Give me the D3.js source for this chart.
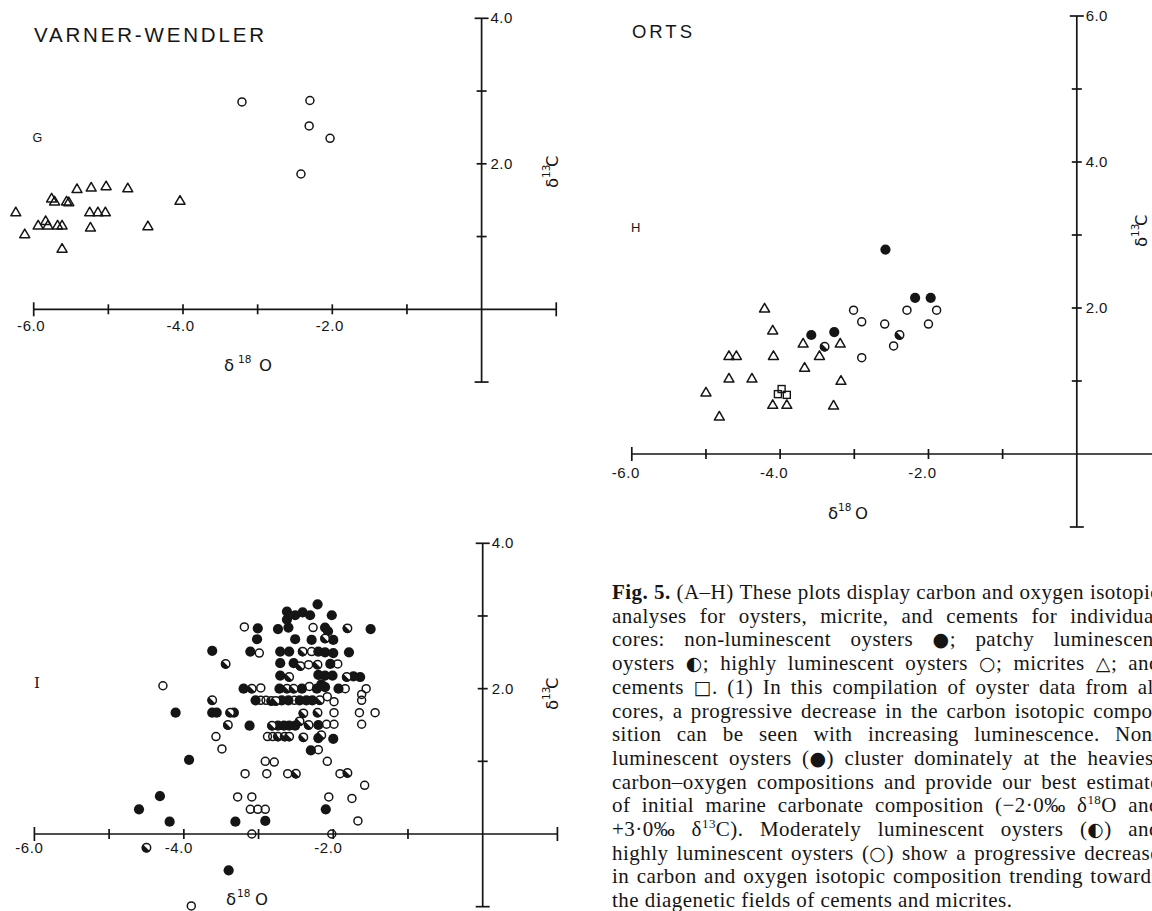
<!DOCTYPE html>
<html>
<head>
<meta charset="utf-8">
<script src="https://cdn.jsdelivr.net/npm/d3@7"></script>
<style>
  html, body { margin: 0; padding: 0; background: #fff; }
  svg { display: block; }
</style>
</head>
<body>
<svg id="fig" width="1152" height="911"></svg>
<script>
// Carbon (δ13C) versus oxygen (δ18O) isotope compositions, per mille PDB.
// Each point is [δ18O, δ13C].

// --- G: Varner-Wendler core ---
const vwOysterOpen = [[-3.21, 2.85], [-2.30, 2.87], [-2.31, 2.52], [-2.03, 2.35], [-2.42, 1.86]];
const vwMicrite = [
  [-6.24, 1.34], [-6.12, 1.04], [-5.94, 1.16], [-5.84, 1.22], [-5.81, 1.16], [-5.76, 1.53],
  [-5.72, 1.49], [-5.68, 1.16], [-5.62, 1.16], [-5.62, 0.84], [-5.56, 1.49], [-5.53, 1.48],
  [-5.42, 1.66], [-5.23, 1.68], [-5.25, 1.34], [-5.24, 1.13], [-5.14, 1.34], [-5.03, 1.70],
  [-5.04, 1.34], [-4.74, 1.67], [-4.47, 1.15], [-4.04, 1.50]
];

// --- H: Orts core ---
const ortsFilled = [[-2.58, 2.80], [-2.18, 2.14], [-1.97, 2.14], [-3.58, 1.63], [-3.27, 1.67]];
const ortsPatchy = [[-3.40, 1.47], [-2.39, 1.63]];
const ortsOpen = [
  [-3.01, 1.97], [-2.90, 1.81], [-2.59, 1.78], [-2.29, 1.97], [-1.89, 1.97], [-2.00, 1.78],
  [-2.47, 1.48], [-2.90, 1.32]
];
const ortsMicrite = [
  [-4.21, 2.00], [-4.10, 1.70], [-4.09, 1.35], [-4.69, 1.35], [-4.59, 1.35], [-3.69, 1.52],
  [-3.19, 1.52], [-3.47, 1.35], [-3.67, 1.19], [-4.69, 1.04], [-4.38, 1.04], [-3.18, 1.01],
  [-5.00, 0.85], [-4.82, 0.52], [-4.10, 0.68], [-3.91, 0.68], [-3.28, 0.67]
];
const ortsCement = [[-3.98, 0.89], [-4.03, 0.82], [-3.91, 0.81]];

// --- I: oyster compilation, all cores ---
const allFilled = [
  [-2.21, 3.16], [-2.62, 3.06], [-2.51, 3.01], [-2.41, 3.05], [-2.31, 3.01], [-2.02, 3.01], [-2.62, 2.95],
  [-3.01, 2.83], [-2.74, 2.82], [-2.60, 2.84], [-2.11, 2.84], [-2.07, 2.79], [-1.50, 2.82],
  [-3.02, 2.68], [-2.51, 2.68], [-2.29, 2.67], [-2.00, 2.67],
  [-3.62, 2.52], [-3.11, 2.51], [-2.71, 2.51], [-2.59, 2.51], [-2.20, 2.51], [-2.11, 2.50], [-2.00, 2.49], [-1.79, 2.50],
  [-2.71, 2.35], [-2.53, 2.35], [-2.04, 2.34],
  [-2.71, 2.18], [-2.20, 2.19], [-2.11, 2.18], [-2.01, 2.18], [-1.73, 2.17], [-1.64, 2.16],
  [-3.20, 2.00], [-2.72, 2.00], [-2.42, 2.00], [-2.22, 2.00], [-2.11, 2.02], [-2.16, 2.06], [-1.93, 2.00],
  [-3.04, 1.84], [-2.69, 1.84], [-2.60, 1.84], [-2.45, 1.84], [-2.36, 1.84], [-2.28, 1.84],
  [-4.11, 1.67], [-3.62, 1.67], [-3.56, 1.67], [-3.33, 1.67],
  [-3.12, 1.49], [-2.74, 1.49], [-2.66, 1.49], [-2.59, 1.49], [-2.51, 1.49], [-2.20, 1.50],
  [-2.20, 1.32], [-2.00, 1.31], [-2.30, 1.15], [-3.93, 1.02],
  [-4.32, 0.52], [-4.60, 0.34], [-2.10, 0.34], [-4.19, 0.17], [-3.31, 0.17], [-2.91, 0.18],
  [-3.40, -0.50]
];
const allPatchy = [
  [-1.81, 2.83], [-2.11, 2.69], [-2.41, 2.51], [-3.44, 2.34], [-2.44, 2.31], [-2.21, 2.33],
  [-2.59, 2.16], [-1.82, 2.16], [-3.09, 2.00], [-2.62, 2.00], [-2.53, 2.00],
  [-3.62, 1.84], [-2.83, 1.83], [-2.77, 1.83], [-2.18, 1.84],
  [-3.38, 1.67], [-2.40, 1.66], [-2.21, 1.67],
  [-3.41, 1.50], [-2.82, 1.49], [-2.45, 1.55], [-2.33, 1.50],
  [-2.74, 1.34], [-2.65, 1.34], [-2.59, 1.34], [-2.40, 1.33], [-2.16, 1.36],
  [-2.50, 0.83], [-1.81, 0.84], [-4.50, -0.19]
];
const allOpen = [
  [-3.19, 2.85], [-2.27, 2.84], [-2.99, 2.49], [-2.29, 2.51], [-2.33, 2.33], [-1.94, 2.34],
  [-4.28, 2.04], [-2.97, 2.01], [-2.32, 2.03], [-1.84, 2.00], [-1.56, 2.00], [-1.62, 1.92],
  [-2.97, 1.84], [-2.90, 1.84], [-2.52, 1.84], [-2.08, 1.89], [-1.99, 1.82], [-1.62, 1.84],
  [-1.99, 1.67], [-1.65, 1.67], [-1.44, 1.67],
  [-2.09, 1.51], [-1.99, 1.51], [-1.62, 1.51],
  [-3.57, 1.34], [-2.88, 1.34], [-2.81, 1.34], [-3.49, 1.17], [-2.20, 1.16],
  [-2.91, 1.00], [-2.79, 0.99], [-2.08, 1.00],
  [-3.18, 0.83], [-2.89, 0.83], [-2.61, 0.83], [-1.91, 0.83], [-1.58, 0.67],
  [-3.28, 0.51], [-3.09, 0.51], [-2.06, 0.51], [-1.75, 0.49],
  [-3.11, 0.34], [-3.01, 0.34], [-2.91, 0.34], [-1.67, 0.18],
  [-3.09, 0.00], [-2.02, 0.00], [-3.90, -0.99]
];

// Axis ticks and labels
const xTickValues = [-6, -5, -4, -3, -2, -1, 1];
const xLabelValues = [-6, -4, -2];
const yLabelsFour = [2, 4];
const yLabelsSix = [2, 4, 6];

// Figure caption, one entry per printed line (^nn marks a superscript)
const captionLines = [
  "Fig. 5. (A–H) These plots display carbon and oxygen isotopic",
  "analyses for oysters, micrite, and cements for individual",
  "cores: non-luminescent oysters ●; patchy luminescent",
  "oysters ◐; highly luminescent oysters ○; micrites △; and",
  "cements □. (1) In this compilation of oyster data from all",
  "cores, a progressive decrease in the carbon isotopic compo-",
  "sition can be seen with increasing luminescence. Non-",
  "luminescent oysters (●) cluster dominately at the heaviest",
  "carbon–oxygen compositions and provide our best estimate",
  "of initial marine carbonate composition (−2·0‰ δ^18O and",
  "+3·0‰ δ^13C). Moderately luminescent oysters (◐) and",
  "highly luminescent oysters (○) show a progressive decrease",
  "in carbon and oxygen isotopic composition trending towards",
  "the diagenetic fields of cements and micrites."
];

const svg = d3.select("#fig");
const ink = "#151515";
const sans = "'Liberation Sans', Arial, sans-serif";
const fmt = d3.formatLocale({decimal: ".", thousands: ",", grouping: [3], currency: ["", ""], minus: "-"}).format(".1f");

const panels = [
  {
    title: "VARNER-WENDLER", titleX: 34, titleY: 41.7, titleSize: 20.5, titleLen: 230,
    letter: "G", letterX: 32.5, letterY: 142, letterSize: 12.5, letterFont: sans,
    xMin: 33.7, xZero: 481.6, xEnd: 1, xCapRight: true,
    yZero: 309.3, yTop: 18.3, yMax: 4, yLabels: yLabelsFour,
    xLabelDy: 22, xLabelShift: -2.5,
    d18: [224, 371, 14, 35], d13: [558, 188],
    series: [["micrite", vwMicrite], ["open", vwOysterOpen]]
  },
  {
    title: "ORTS", titleX: 632, titleY: 38.3, titleSize: 18.5, titleLen: 60,
    letter: "H", letterX: 631, letterY: 232, letterSize: 13, letterFont: sans,
    xMin: 631.8, xZero: 1076.8, xEnd: 1.3, xCapRight: false,
    yZero: 454, yTop: 16, yMax: 6, yLabels: yLabelsSix,
    xLabelDy: 24, xLabelShift: -6,
    d18: [828, 519, 10, 27], d13: [1147, 247],
    series: [["micrite", ortsMicrite], ["cement", ortsCement], ["filled", ortsFilled],
             ["patchy", ortsPatchy], ["open", ortsOpen]]
  },
  {
    title: null,
    letter: "I", letterX: 34, letterY: 688, letterSize: 15, letterFont: "'DejaVu Serif', serif",
    xMin: 34.4, xZero: 482.7, xEnd: 1, xCapRight: true,
    yZero: 834, yTop: 543.3, yMax: 4, yLabels: yLabelsFour,
    xLabelDy: 19, xLabelShift: -5,
    d18: [226, 905, 11, 29], d13: [558, 710],
    series: [["filled", allFilled], ["patchy", allPatchy], ["open", allOpen]]
  }
];

// Point symbols
const halfDisc = (r) => {
  const a1 = Math.PI / 4, a2 = 5 * Math.PI / 4;
  return `M${r * Math.cos(a1)},${r * Math.sin(a1)}A${r},${r} 0 0 1 ${r * Math.cos(a2)},${r * Math.sin(a2)}Z`;
};
const symbols = {
  filled(g, pts, x, y) {
    g.selectAll(null).data(pts).join("circle")
      .attr("cx", d => x(d[0])).attr("cy", d => y(d[1])).attr("r", 5.1).attr("fill", ink);
  },
  open(g, pts, x, y) {
    g.selectAll(null).data(pts).join("circle")
      .attr("cx", d => x(d[0])).attr("cy", d => y(d[1])).attr("r", 4.0)
      .attr("fill", "none").attr("stroke", ink).attr("stroke-width", 1.5);
  },
  patchy(g, pts, x, y) {
    const m = g.selectAll(null).data(pts).join("g")
      .attr("transform", d => `translate(${x(d[0])},${y(d[1])})`);
    m.append("circle").attr("r", 4.2).attr("fill", "#fff").attr("stroke", ink).attr("stroke-width", 1.5);
    m.append("path").attr("d", halfDisc(4.8)).attr("fill", ink);
  },
  micrite(g, pts, x, y) {
    g.selectAll(null).data(pts).join("path")
      .attr("transform", d => `translate(${x(d[0])},${y(d[1])})`)
      .attr("d", "M0,-4.6L5,4L-5,4Z")
      .attr("fill", "none").attr("stroke", ink).attr("stroke-width", 1.5).attr("stroke-linejoin", "round");
  },
  cement(g, pts, x, y) {
    g.selectAll(null).data(pts).join("rect")
      .attr("x", d => x(d[0]) - 3.5).attr("y", d => y(d[1]) - 3.5)
      .attr("width", 7).attr("height", 7)
      .attr("fill", "none").attr("stroke", ink).attr("stroke-width", 1.4);
  }
};

function deltaLabel(g, x0, y0, dx1, dx2, mass, elem) {
  const t = g.append("text").attr("x", x0).attr("y", y0)
    .attr("font-family", "'DejaVu Sans', sans-serif").attr("font-size", 16.5).attr("fill", ink);
  t.append("tspan").text("δ");
  t.append("tspan").attr("x", x0 + dx1).attr("dy", -8).attr("font-size", 10.5).text(mass);
  t.append("tspan").attr("x", x0 + dx2).attr("dy", 8).text(elem);
  return t;
}

function drawPanel(p) {
  const x = d3.scaleLinear().domain([-6, 0]).range([p.xMin, p.xZero]);
  const y = d3.scaleLinear().domain([0, p.yMax]).range([p.yZero, p.yTop]);
  const g = svg.append("g");
  const ax = g.append("g").attr("stroke", ink).attr("stroke-width", 1.7).attr("fill", "none");

  // axes crossing at the origin
  ax.append("line").attr("x1", x(-6)).attr("x2", x(p.xEnd)).attr("y1", y(0)).attr("y2", y(0));
  ax.append("line").attr("x1", x(0)).attr("x2", x(0)).attr("y1", y(-1)).attr("y2", y(p.yMax));

  // cross ticks, longer caps at the ends of each axis
  xTickValues.filter(v => v <= p.xEnd && (v !== 1 || p.xCapRight)).forEach(v => {
    const h = (v === -6 || v === 1) ? 7 : 5;
    ax.append("line").attr("x1", x(v)).attr("x2", x(v)).attr("y1", y(0) - h).attr("y2", y(0) + h);
  });
  d3.range(-1, p.yMax + 1).filter(v => v !== 0).forEach(v => {
    const w = (v === -1 || v === p.yMax) ? 7 : 5;
    ax.append("line").attr("x1", x(0) - w).attr("x2", x(0) + w).attr("y1", y(v)).attr("y2", y(v));
  });

  // tick labels
  g.selectAll(null).data(xLabelValues).join("text")
    .attr("x", v => x(v) + p.xLabelShift).attr("y", y(0) + p.xLabelDy)
    .attr("text-anchor", "middle").attr("font-family", sans).attr("font-size", 15)
    .attr("letter-spacing", 0.6).attr("fill", ink).text(v => fmt(v));
  g.selectAll(null).data(p.yLabels).join("text")
    .attr("x", x(0) + 9).attr("y", v => y(v) + 5)
    .attr("font-family", sans).attr("font-size", 15).attr("letter-spacing", 0.4)
    .attr("fill", ink).text(v => fmt(v));

  // axis titles
  deltaLabel(g, p.d18[0], p.d18[1], p.d18[2], p.d18[3], "18", "O");
  const rot = g.append("g").attr("transform", `translate(${p.d13[0]},${p.d13[1]}) rotate(-90)`);
  deltaLabel(rot, 0, 0, 10, 21, "13", "C");

  // core name and panel letter
  if (p.title) {
    g.append("text").attr("x", p.titleX).attr("y", p.titleY)
      .attr("font-family", sans).attr("font-size", p.titleSize)
      .attr("textLength", p.titleLen).attr("lengthAdjust", "spacing")
      .attr("fill", ink).text(p.title);
  }
  g.append("text").attr("x", p.letterX).attr("y", p.letterY)
    .attr("font-family", p.letterFont).attr("font-size", p.letterSize)
    .attr("fill", ink).text(p.letter);

  // data points
  const marks = g.append("g");
  p.series.forEach(([type, pts]) => symbols[type](marks, pts, x, y));
}

panels.forEach(drawPanel);

// ---- caption, justified to a fixed measure ----
const cap = { left: 612, width: 548, top: 599, lead: 23.7, size: 21, spacing: 0.45 };
const capG = svg.append("g").attr("font-family", "'Liberation Serif', 'Times New Roman', serif")
  .attr("font-size", cap.size).attr("fill", ink).attr("letter-spacing", cap.spacing);
const symbolChars = /([●◐○△□])/;

// one word: plain runs, superscript digits (^nn) and symbol glyphs as tspans
function addWord(parent, word, bold) {
  const t = parent.append("text");
  if (bold) t.attr("font-weight", "bold");
  const runs = [];
  word.split(/\^(\d+)/).forEach((s, i) => {
    if (i % 2 === 1) { runs.push({ text: s, sup: true }); return; }
    s.split(symbolChars).forEach(part => {
      if (part) runs.push({ text: part, sym: symbolChars.test(part) });
    });
  });
  let raised = false;
  runs.forEach(r => {
    const ts = t.append("tspan").text(r.text);
    if (r.sup) { ts.attr("dy", -8).attr("font-size", 13); raised = true; }
    else {
      if (raised) { ts.attr("dy", 8); raised = false; }
      if (r.sym) ts.attr("font-family", "'DejaVu Sans', sans-serif").attr("font-size", 19);
    }
  });
  return t;
}

const spaceW = (() => {
  const t = capG.append("text").text("a a");
  const u = capG.append("text").text("aa");
  const w = t.node().getComputedTextLength() - u.node().getComputedTextLength();
  t.remove(); u.remove();
  return w;
})();

captionLines.forEach((line, li) => {
  const words = line.split(" ");
  const baseline = cap.top + li * cap.lead;
  const nodes = words.map((w, wi) => addWord(capG, w, li === 0 && wi < 2).attr("y", baseline));
  const widths = nodes.map(n => n.node().getComputedTextLength());
  const total = d3.sum(widths);
  const last = li === captionLines.length - 1;
  const gap = last ? spaceW : Math.max(3, (cap.width - total) / (words.length - 1));
  let xPos = cap.left;
  nodes.forEach((n, i) => {
    n.attr("x", xPos);
    n.selectAll("tspan").filter((d, k) => k === 0).attr("x", xPos);
    xPos += widths[i] + gap;
  });
});
</script>
</body>
</html>
